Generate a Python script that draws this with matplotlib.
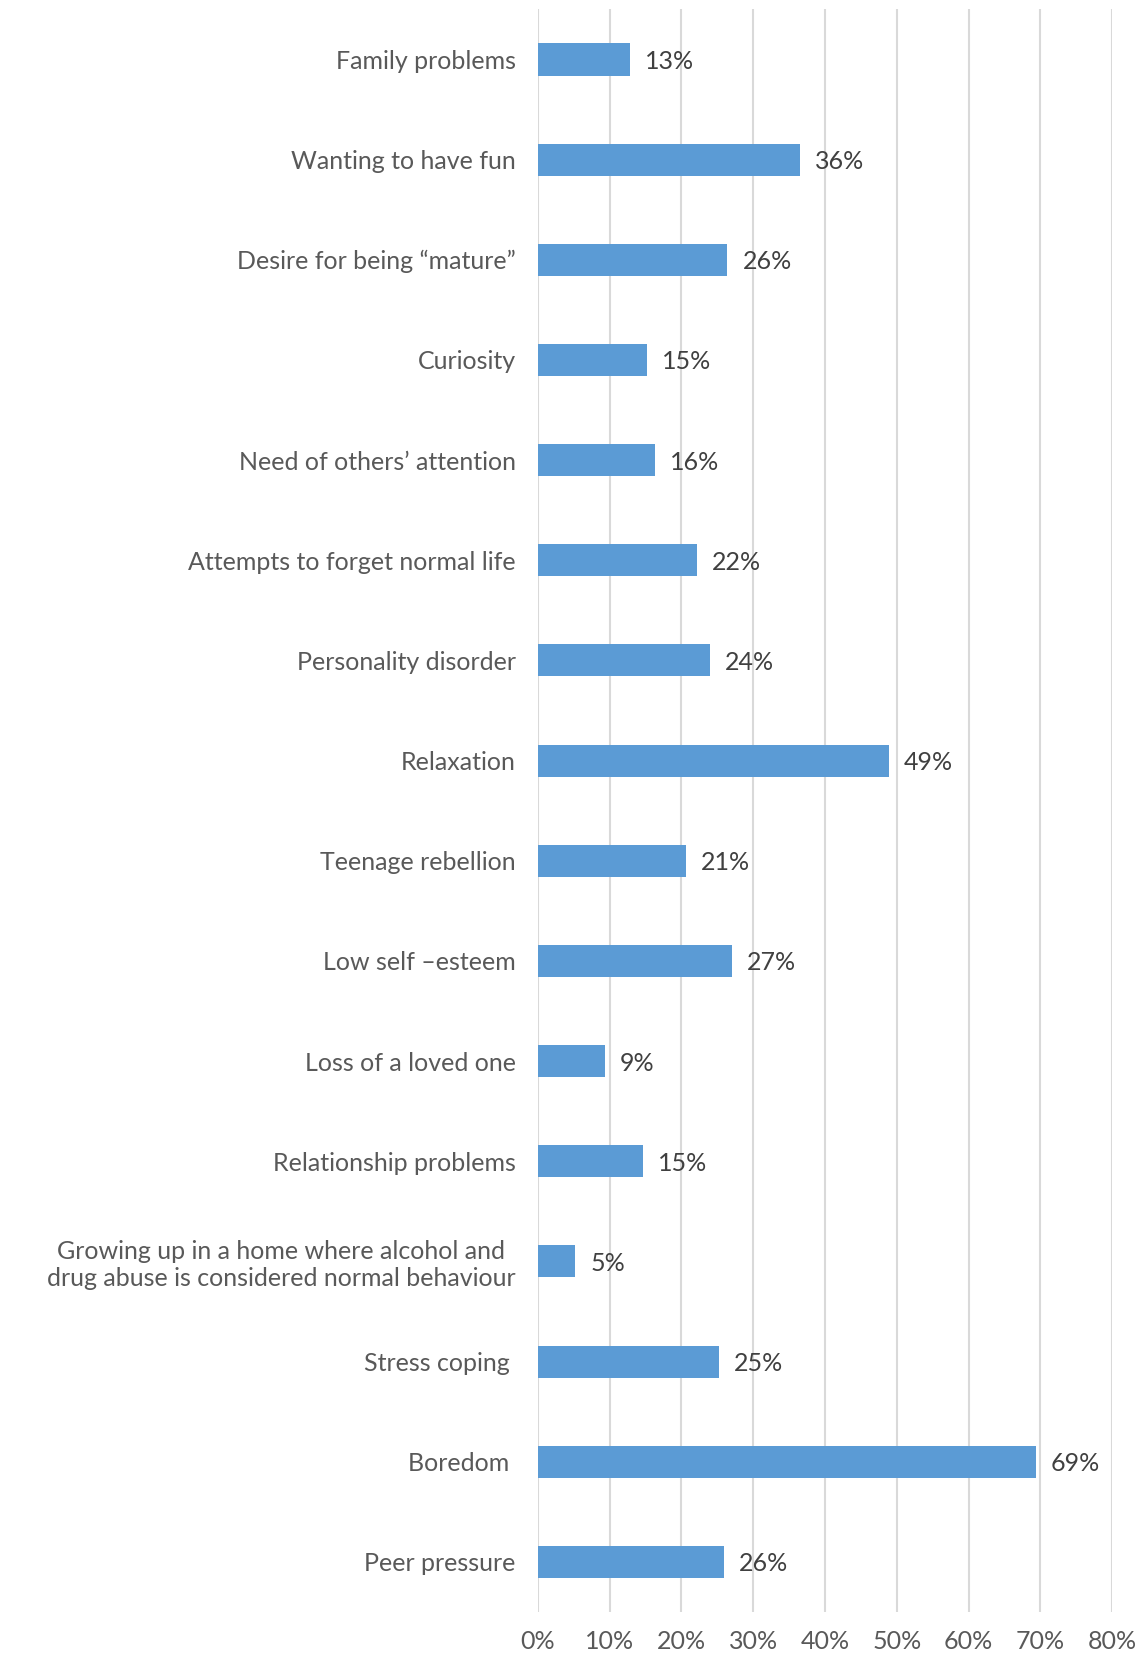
import matplotlib.pyplot as plt
import matplotlib as mpl
from matplotlib.ticker import PercentFormatter

# reasons, top to bottom as in the chart
reasons = ['Family problems', 'Wanting to have fun', 'Desire for being \u201cmature\u201d',
           'Curiosity', 'Need of others\u2019 attention', 'Attempts to forget normal life',
           'Personality disorder', 'Relaxation', 'Teenage rebellion', 'Low self \u2013esteem',
           'Loss of a loved one', 'Relationship problems',
           'Growing up in a home where alcohol and\ndrug abuse is considered normal behaviour',
           'Stress coping ', 'Boredom ', 'Peer pressure']
shares = [12.8, 36.5, 26.4, 15.2, 16.3, 22.2, 24.0, 48.9, 20.6, 27.0, 9.3, 14.6, 5.2, 25.2, 69.4, 25.9]
xticks = [0, 10, 20, 30, 40, 50, 60, 70, 80]

mpl.rcParams['font.family'] = ['Lato', 'DejaVu Sans']
text_col = '#595959'

fig = plt.figure(figsize=(11.41, 16.55), dpi=100)
ax = fig.add_axes([0.4715, 0.026, 0.5031, 0.9683])

pos = list(range(len(reasons)))
ax.barh(pos, shares, height=0.32, color='#5b9bd5', zorder=3)
for p, v in zip(pos, shares):
    ax.text(v + 2.1, p, '%d%%' % round(v), va='center_baseline', ha='left',
            fontsize=18, color='#404040')

ax.set_ylim(len(reasons) - 0.5, -0.5)
ax.set_xlim(0, 80)
ax.set_yticks(pos)
ax.set_yticklabels(reasons, fontsize=18, color=text_col, linespacing=1.2)
for lab in ax.get_yticklabels():
    lab.set_multialignment('center')
ax.set_xticks(xticks)
ax.xaxis.set_major_formatter(PercentFormatter(decimals=0))
ax.tick_params(axis='x', labelsize=18, labelcolor=text_col, length=0, pad=13)
ax.tick_params(axis='y', length=0, pad=16)
ax.grid(axis='x', color='#d9d9d9', linewidth=1.5, zorder=0)
for s in ax.spines.values():
    s.set_visible(False)

plt.savefig('out.png', dpi=100)
